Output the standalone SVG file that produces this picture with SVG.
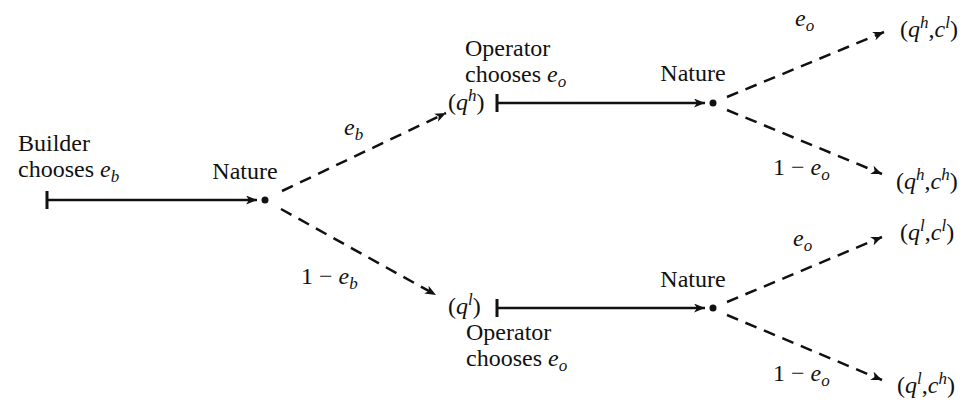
<svg xmlns="http://www.w3.org/2000/svg" width="964" height="403" viewBox="0 0 964 403">
<style>
text{font-family:"Liberation Serif","Times New Roman",serif;font-size:24px;fill:#111}
.i{font-style:italic}
.s{font-size:17px;font-style:italic}
.solid{stroke:#111;stroke-width:2.5;fill:none}
.dash{stroke:#111;stroke-width:2.5;fill:none;stroke-dasharray:12 8}
.bar{stroke:#111;stroke-width:3}
</style>
<defs>
<marker id="ah" markerWidth="12" markerHeight="9" refX="11" refY="4.5" orient="auto" markerUnits="userSpaceOnUse">
<path d="M0,0 L11,4.5 L0,9 L3,4.5 Z" fill="#111"/>
</marker>
</defs>
<g id="builder">
<text x="18" y="151">Builder</text>
<text x="18" y="177">chooses <tspan class="i">e</tspan><tspan class="s" dy="5">b</tspan></text>
<line class="bar" x1="47" y1="191" x2="47" y2="209"/>
</g>
<g id="nature1">
<circle cx="265" cy="200" r="3.5" fill="#111"/>
<text x="245" y="179" text-anchor="middle">Nature</text>
</g>
<g id="qh">
<text x="448" y="110">(<tspan class="i">q</tspan><tspan class="s" dy="-9">h</tspan><tspan dy="9">)</tspan></text>
</g>
<g id="operator1">
<text x="465" y="56">Operator</text>
<text x="465" y="82">chooses <tspan class="i">e</tspan><tspan class="s" dy="5">o</tspan></text>
<line class="bar" x1="497" y1="94" x2="497" y2="112"/>
</g>
<g id="nature2">
<circle cx="713" cy="103" r="3.5" fill="#111"/>
<text x="693" y="81" text-anchor="middle">Nature</text>
</g>
<g id="ql">
<text x="448" y="314">(<tspan class="i">q</tspan><tspan class="s" dy="-9">l</tspan><tspan dy="9">)</tspan></text>
</g>
<g id="operator2">
<text x="466" y="340">Operator</text>
<text x="466" y="366">chooses <tspan class="i">e</tspan><tspan class="s" dy="5">o</tspan></text>
<line class="bar" x1="497" y1="299" x2="497" y2="317"/>
</g>
<g id="nature3">
<circle cx="713" cy="308" r="3.5" fill="#111"/>
<text x="693" y="287" text-anchor="middle">Nature</text>
</g>
<g id="out-hl">
<text x="900" y="37">(<tspan class="i">q</tspan><tspan class="s" dy="-9">h</tspan><tspan dy="9">,</tspan><tspan class="i">c</tspan><tspan class="s" dy="-9">l</tspan><tspan dy="9">)</tspan></text>
</g>
<g id="out-hh">
<text x="896" y="189">(<tspan class="i">q</tspan><tspan class="s" dy="-9">h</tspan><tspan dy="9">,</tspan><tspan class="i">c</tspan><tspan class="s" dy="-9">h</tspan><tspan dy="9">)</tspan></text>
</g>
<g id="out-ll">
<text x="900" y="240">(<tspan class="i">q</tspan><tspan class="s" dy="-9">l</tspan><tspan dy="9">,</tspan><tspan class="i">c</tspan><tspan class="s" dy="-9">l</tspan><tspan dy="9">)</tspan></text>
</g>
<g id="out-lh">
<text x="897" y="393">(<tspan class="i">q</tspan><tspan class="s" dy="-9">l</tspan><tspan dy="9">,</tspan><tspan class="i">c</tspan><tspan class="s" dy="-9">h</tspan><tspan dy="9">)</tspan></text>
</g>
<g id="connectors">
<line class="solid" x1="47" y1="200" x2="257" y2="200" marker-end="url(#ah)"/>
<line class="solid" x1="497" y1="103" x2="705" y2="103" marker-end="url(#ah)"/>
<line class="solid" x1="497" y1="308" x2="705" y2="308" marker-end="url(#ah)"/>
<line class="dash" x1="282" y1="191" x2="446" y2="113" marker-end="url(#ah)"/>
<line class="dash" x1="281" y1="209" x2="436" y2="295" marker-end="url(#ah)"/>
<line class="dash" x1="727" y1="97" x2="884" y2="32" marker-end="url(#ah)"/>
<line class="dash" x1="727" y1="110" x2="882" y2="174" marker-end="url(#ah)"/>
<line class="dash" x1="727" y1="302" x2="882" y2="237" marker-end="url(#ah)"/>
<line class="dash" x1="727" y1="315" x2="882" y2="380" marker-end="url(#ah)"/>
<text x="344" y="135"><tspan class="i">e</tspan><tspan class="s" dy="5">b</tspan></text>
<text x="301" y="284">1 − <tspan class="i">e</tspan><tspan class="s" dy="5">b</tspan></text>
<text x="795" y="26"><tspan class="i">e</tspan><tspan class="s" dy="5">o</tspan></text>
<text x="773" y="175">1 − <tspan class="i">e</tspan><tspan class="s" dy="5">o</tspan></text>
<text x="793" y="246"><tspan class="i">e</tspan><tspan class="s" dy="5">o</tspan></text>
<text x="773" y="381">1 − <tspan class="i">e</tspan><tspan class="s" dy="5">o</tspan></text>
</g>
</svg>
